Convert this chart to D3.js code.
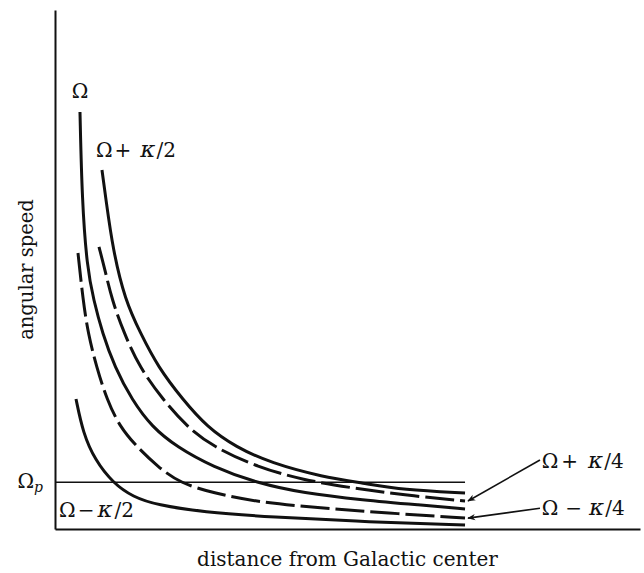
<!DOCTYPE html>
<html>
<head>
<meta charset="utf-8">
<title>angular speed vs distance</title>
<script src="https://cdn.jsdelivr.net/npm/d3@7"></script>
<style>
  body { margin: 0; background: #fff; }
  svg { display: block; }
  .lbl { font-family: "DejaVu Serif", serif; fill: #111; }
</style>
</head>
<body>
<div id="chart"></div>
<script>
// values (arbitrary units, no numeric ticks in the original)
var xPlusHalf  = [8.03, 8.72, 9.91, 11.97, 14.6, 17.6, 21.9, 26.0, 30.9, 36.9, 45.81, 52.65, 59.49, 70.09];
var yPlusHalf  = [69.17, 63.39, 53.76, 44.12, 37.76, 31.21, 24.86, 19.65, 15.80, 12.72, 10.02, 8.86, 7.51, 6.94];

var xPlusQuar  = [7.52, 8.55, 9.74, 11.8, 14.4, 18.5, 22.6, 27.1, 34.53, 42.39, 50.94, 59.49, 70.09];
var yPlusQuar  = [54.34, 49.90, 44.12, 37.76, 31.21, 24.86, 19.65, 15.80, 11.95, 9.44, 7.90, 6.55, 5.39];

var xOmega     = [4.27, 4.62, 5.47, 6.6, 8.1, 10.2, 13.16, 16.58, 20.85, 27.01, 34.53, 42.39, 52.65, 62.39, 70.09];
var yOmega     = [80.35, 63.39, 50.48, 44.12, 37.76, 31.21, 24.86, 19.65, 15.80, 11.95, 8.86, 6.94, 5.59, 4.62, 3.85];

var xMinusQuar = [3.93, 4.79, 5.64, 7.1, 8.89, 11.11, 14.02, 17.61, 21.37, 27.01, 34.53, 45.30, 56.75, 70.09];
var yMinusQuar = [53.18, 44.12, 37.76, 31.21, 24.86, 19.65, 15.80, 11.95, 8.86, 6.94, 5.20, 4.05, 3.08, 2.12];

var xMinusHalf = [3.59, 4.79, 6.84, 9.91, 13.33, 17.44, 25.30, 36.75, 53.85, 70.09];
var yMinusHalf = [25.05, 18.50, 13.29, 8.86, 6.17, 4.62, 3.28, 2.31, 1.35, 0.77];

var omegaP = 9.0;
var omegaPEnd = 70.09;

var seriesNames = ["Ω+κ/2", "Ω+κ/4", "Ω", "Ω−κ/4", "Ω−κ/2"];
var seriesDashed = [false, true, false, true, false];

// curve label anchor points in data units
var labelX = [4.3, 7.0, 83.2, 83.2, 0.7];
var labelY = [83.0, 71.7, 11.8, 2.7, 2.3];

// arrows from labels to the ends of the dashed curves
var arrowFromX = [82.9, 82.9];
var arrowFromY = [13.3, 4.0];
var arrowToX = [70.6, 70.6];
var arrowToY = [5.4, 2.1];

var W = 644, H = 573;
var svg = d3.select('#chart').append('svg')
    .attr('width', W)
    .attr('height', H);

svg.append('rect').attr('width', W).attr('height', H).attr('fill', '#fff');

var x = d3.scaleLinear().domain([0, 100]).range([55, 640]);
var y = d3.scaleLinear().domain([0, 100]).range([529, 10]);

// axes, no ticks
svg.append('g')
    .attr('transform', 'translate(0,' + y(0) + ')')
    .call(d3.axisBottom(x).tickValues([]).tickSizeOuter(0))
    .call(function(g) { g.select('.domain').attr('stroke', '#111').attr('stroke-width', 2); });

svg.append('g')
    .attr('transform', 'translate(' + x(0) + ',0)')
    .call(d3.axisLeft(y).tickValues([]).tickSizeOuter(0))
    .call(function(g) { g.select('.domain').attr('stroke', '#111').attr('stroke-width', 2); });

// pattern speed line
svg.append('line')
    .attr('x1', x(0)).attr('x2', x(omegaPEnd))
    .attr('y1', y(omegaP)).attr('y2', y(omegaP))
    .attr('stroke', '#111')
    .attr('stroke-width', 1.4);

var xs = [xPlusHalf, xPlusQuar, xOmega, xMinusQuar, xMinusHalf];
var ys = [yPlusHalf, yPlusQuar, yOmega, yMinusQuar, yMinusHalf];

var line = d3.line()
    .x(function(d) { return x(d[0]); })
    .y(function(d) { return y(d[1]); })
    .curve(d3.curveBasis);

seriesNames.forEach(function(name, i) {
    var pts = d3.zip(xs[i], ys[i]);
    svg.append('path')
        .datum(pts)
        .attr('class', 'curve')
        .attr('fill', 'none')
        .attr('stroke', '#111')
        .attr('stroke-width', 3)
        .attr('stroke-dasharray', seriesDashed[i] ? '29,6' : null)
        .attr('d', line);
});

// arrowheads
svg.append('defs').append('marker')
    .attr('id', 'head')
    .attr('viewBox', '0 0 10 10')
    .attr('refX', 9).attr('refY', 5)
    .attr('markerWidth', 12).attr('markerHeight', 8)
    .attr('markerUnits', 'userSpaceOnUse')
    .attr('orient', 'auto')
    .append('path')
    .attr('d', 'M0,1 L10,5 L0,9 L3,5 Z')
    .attr('fill', '#111');

arrowFromX.forEach(function(v, i) {
    svg.append('line')
        .attr('x1', x(arrowFromX[i])).attr('y1', y(arrowFromY[i]))
        .attr('x2', x(arrowToX[i])).attr('y2', y(arrowToY[i]))
        .attr('stroke', '#111')
        .attr('stroke-width', 1.6)
        .attr('marker-end', 'url(#head)');
});

// labels
function greek(t, parts, anchor) {
    t.attr('text-anchor', anchor || 'start');
    parts.forEach(function(p) {
        var s = t.append('tspan')
            .attr('dx', p[2] || 0)
            .style('font-style', p[1] ? 'italic' : 'normal')
            .text(p[0]);
        if (p[1]) s.attr('font-size', 23);
    });
}

var lblParts = [
    [["Ω"]],
    [["Ω"], ["+", false, 2], ["κ", true, 9], ["/2", false, 1]],
    [["Ω"], ["+", false, 3], ["κ", true, 10], ["/4", false, 1]],
    [["Ω"], ["−", false, 7], ["κ", true, 7], ["/4", false, 1]],
    [["Ω"], ["−", false, 2], ["κ", true, 3], ["/2", false, 2]]
];
lblParts.forEach(function(parts, i) {
    var t = svg.append('text')
        .attr('class', 'lbl')
        .attr('x', x(labelX[i]))
        .attr('y', y(labelY[i]))
        .attr('font-size', 20);
    greek(t, parts, i === 0 ? 'middle' : 'start');
});

// Omega_p at the axis
var op = svg.append('text')
    .attr('class', 'lbl')
    .attr('x', x(0) - 12)
    .attr('y', y(omegaP) + 6)
    .attr('font-size', 20)
    .attr('text-anchor', 'end');
op.append('tspan').text('Ω');
op.append('tspan')
    .attr('dy', 4)
    .attr('font-size', 14)
    .style('font-style', 'italic')
    .text('p');

// axis titles
svg.append('text')
    .attr('class', 'lbl')
    .attr('x', (x(0) + x(100)) / 2)
    .attr('y', 566)
    .attr('font-size', 20)
    .attr('text-anchor', 'middle')
    .text('distance from Galactic center');

svg.append('text')
    .attr('class', 'lbl')
    .attr('transform', 'translate(33,' + ((y(0) + y(100)) / 2) + ') rotate(-90)')
    .attr('font-size', 19.5)
    .attr('text-anchor', 'middle')
    .text('angular speed');
</script>
</body>
</html>
